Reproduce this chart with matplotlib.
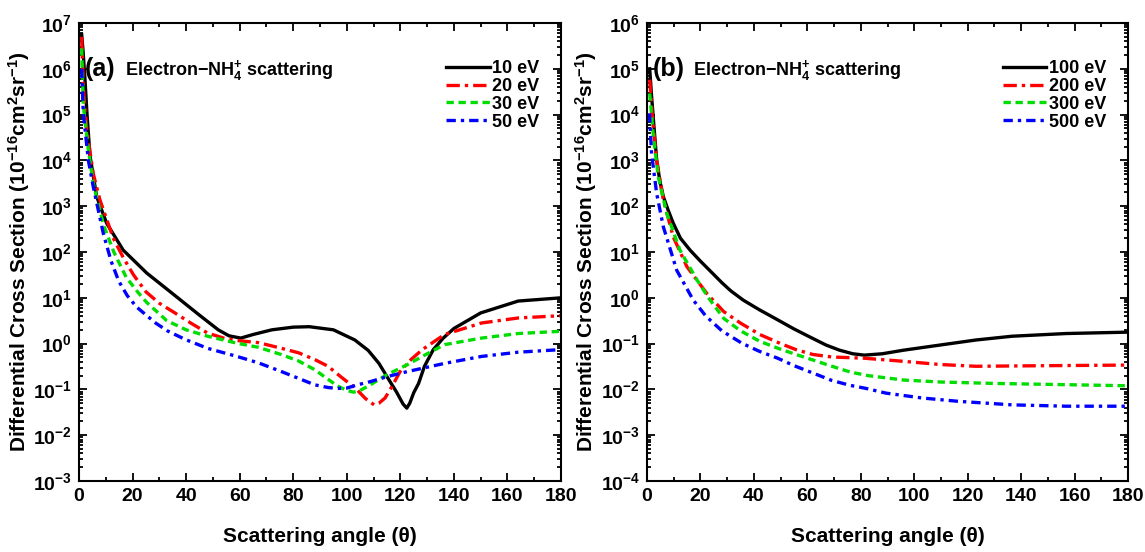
import matplotlib
matplotlib.use("Agg")
import matplotlib.pyplot as plt
import matplotlib.ticker as mticker
from matplotlib import font_manager

# ---------------- data ----------------
theta_10 = [1, 1.5, 2.2, 3.0, 4.1, 6.6, 10.3, 16.5, 25.3, 35.2, 45, 52, 56, 60.4, 65, 72, 80, 86,
            95, 103, 108, 112, 115, 118.5, 121, 122.4, 123.5, 125, 126.8, 129, 132.3, 136, 140,
            150, 164, 180]
dcs_10 = [5.6e6, 2.5e6, 6.3e5, 1.0e5, 1.26e4, 1.62e3, 427, 110, 34.7, 12.0, 4.17, 2.0, 1.48, 1.32,
          1.58, 2.0, 2.29, 2.34, 2.0, 1.2, 0.71, 0.37, 0.19, 0.089, 0.048, 0.039, 0.05, 0.085,
          0.135, 0.32, 0.74, 1.32, 2.14, 4.68, 8.5, 10.0]

theta_20 = [1, 1.6, 2.9, 5.3, 7.8, 12.8, 16.5, 20.3, 25, 30, 35.5, 42, 48, 54, 59, 67, 75.6, 82,
            88, 93, 97.7, 103.3, 107, 110.2, 112, 114.3, 117, 119.9, 124, 128.2, 136.5, 150.3,
            164, 180]
dcs_20 = [5.0e6, 4.1e5, 4.6e4, 5.2e3, 1.38e3, 200, 76, 32, 13.5, 7.6, 4.8, 2.75, 1.7, 1.32,
          1.17, 1.05, 0.79, 0.63, 0.45, 0.32, 0.19, 0.105, 0.063, 0.046, 0.050, 0.065, 0.12,
          0.245, 0.45, 0.74, 1.58, 2.82, 3.63, 4.07]

theta_30 = [1, 1.6, 3.5, 5.3, 9.1, 13, 17.6, 22, 25.3, 32.8, 40, 48, 59, 67, 75.6, 82, 88, 93,
            96.4, 100, 102.5, 105, 108.8, 115, 122.6, 130, 136.5, 150.3, 164, 180]
dcs_30 = [2.8e6, 1.6e5, 1.7e4, 3.2e3, 398, 100, 28.2, 13.2, 7.9, 3.16, 2.0, 1.45, 1.02, 0.83,
          0.575, 0.417, 0.27, 0.166, 0.12, 0.095, 0.087, 0.095, 0.126, 0.21, 0.347, 0.60, 0.95,
          1.32, 1.66, 1.86]

theta_50 = [1, 1.6, 3.5, 5.3, 9.1, 12, 14.8, 18, 21.5, 28.6, 33, 39.7, 48, 59, 67, 75.6, 82, 88,
            93, 96.5, 100, 104, 108.8, 115, 122.6, 136.5, 150.3, 164, 180]
dcs_50 = [1.0e6, 1.07e5, 1.0e4, 2.7e3, 251, 63, 23.4, 11.2, 6.3, 2.82, 1.9, 1.23, 0.79, 0.525,
          0.38, 0.245, 0.174, 0.126, 0.11, 0.105, 0.107, 0.126, 0.148, 0.19, 0.245, 0.37, 0.525,
          0.65, 0.74]

theta_100 = [1, 1.7, 2.4, 3.6, 4.8, 6.1, 8, 9.8, 12.5, 16.1, 20, 24.8, 28, 31.4, 36, 42, 48.9, 55,
             61.1, 67, 72, 77, 81.3, 88, 96.1, 109.6, 123.1, 136.6, 156.8, 180]
dcs_100 = [1.0e5, 2.5e4, 7.6e3, 1.02e3, 355, 162, 79, 42.7, 20, 11.0, 6.3, 3.3, 2.14, 1.41, 0.89,
           0.55, 0.33, 0.209, 0.138, 0.093, 0.072, 0.060, 0.056, 0.060, 0.072, 0.093, 0.12,
           0.145, 0.166, 0.178]

theta_200 = [1, 2.1, 3.6, 6.1, 9.8, 14.9, 22.3, 28.7, 35, 42.2, 50, 55.7, 62, 69.2, 81.3, 96.1,
             109.6, 123.1, 150, 180]
dcs_200 = [5.8e4, 7.6e3, 1.0e3, 138, 21.4, 4.8, 1.26, 0.5, 0.28, 0.158, 0.1, 0.074, 0.058, 0.051,
           0.048, 0.041, 0.035, 0.032, 0.033, 0.034]

theta_300 = [1, 2.4, 4.2, 7.4, 12.3, 18.6, 23, 28.7, 35, 42.2, 49, 55.7, 62, 69.2, 76, 82.7, 96.1,
             110, 130, 150, 180]
dcs_300 = [2.9e4, 3.3e3, 437, 69, 11.0, 2.5, 1.0, 0.355, 0.19, 0.112, 0.079, 0.058, 0.044, 0.032,
           0.024, 0.020, 0.016, 0.0145, 0.0135, 0.0129, 0.012]

theta_500 = [0.9, 1.7, 3.6, 6.1, 11.1, 17.3, 22, 28, 35.5, 42, 48.9, 55, 62.4, 69, 75.9, 82, 89.4,
             102.9, 116.4, 136.6, 156.8, 180]
dcs_500 = [1.07e4, 1.4e3, 190, 35.5, 4.0, 0.89, 0.40, 0.19, 0.102, 0.068, 0.048, 0.033, 0.0224,
           0.0158, 0.0123, 0.0105, 0.0083, 0.0065, 0.0055, 0.0046, 0.0043, 0.0043]

labels_a = ["10 eV", "20 eV", "30 eV", "50 eV"]
labels_b = ["100 eV", "200 eV", "300 eV", "500 eV"]
xticks = [0, 20, 40, 60, 80, 100, 120, 140, 160, 180]
yexp_a = list(range(-3, 8))
yexp_b = list(range(-4, 7))

# ---------------- style ----------------
avail = {f.name for f in font_manager.fontManager.ttflist}
narrow = "Liberation Sans Narrow" if "Liberation Sans Narrow" in avail else "Liberation Sans"
plt.rcParams["font.family"] = [narrow, "DejaVu Sans"]
plt.rcParams["font.weight"] = "bold"
plt.rcParams["axes.labelweight"] = "bold"
plt.rcParams["mathtext.fontset"] = "custom"
plt.rcParams["mathtext.rm"] = narrow + ":bold"
plt.rcParams["mathtext.bf"] = narrow + ":bold"
plt.rcParams["mathtext.it"] = narrow + ":bold"
plt.rcParams["mathtext.default"] = "rm"

colors = ["black", "#ff0000", "#00dd00", "#0000ff"]
styles = ["-", (0, (4, 1.5, 1, 1.5)), (0, (2.2, 1.4)), (0, (2.8, 1.5, 1, 1.5))]

fig = plt.figure(figsize=(11.45, 5.52), dpi=100)
ax_a = fig.add_axes([0.0690, 0.1286, 0.4210, 0.8297])
ax_b = fig.add_axes([0.5651, 0.1286, 0.4201, 0.8297])

series_a = [(theta_10, dcs_10), (theta_20, dcs_20), (theta_30, dcs_30), (theta_50, dcs_50)]
series_b = [(theta_100, dcs_100), (theta_200, dcs_200), (theta_300, dcs_300), (theta_500, dcs_500)]

ylab = r"Differential Cross Section (10$^{-16}$cm$^{2}$sr$^{-1}$)"

for ax, series, labels, yexp, tag in [(ax_a, series_a, labels_a, yexp_a, "(a)"),
                                       (ax_b, series_b, labels_b, yexp_b, "(b)")]:
    for (t, d), lab, c, ls in zip(series, labels, colors, styles):
        ax.plot(t, d, color=c, linestyle=ls, lw=2.4, label=lab)
    ax.set_yscale("log")
    ax.set_xlim(0, 180)
    ax.set_ylim(10.0 ** yexp[0], 10.0 ** yexp[-1])
    ax.set_xticks(xticks)
    ax.set_xticklabels([str(v) for v in xticks])
    ax.xaxis.set_minor_locator(mticker.MultipleLocator(10))
    ax.set_yticks([10.0 ** e for e in yexp])
    ax.set_yticklabels([r"10$^{%d}$" % e for e in yexp])
    ax.yaxis.set_minor_locator(mticker.LogLocator(base=10, subs=range(2, 10), numticks=30))
    ax.yaxis.set_minor_formatter(mticker.NullFormatter())
    ax.tick_params(which="both", direction="in", top=True, right=True, width=1.3)
    ax.tick_params(which="major", length=6, labelsize=14, pad=5)
    ax.tick_params(which="minor", length=3)
    for s in ax.spines.values():
        s.set_linewidth(1.5)
    ax.set_xlabel("Scattering angle (θ)", fontsize=15, fontweight="bold", labelpad=16)
    ax.set_ylabel(ylab, fontsize=15, fontweight="bold", labelpad=1)
    ax.text(0.012, 0.885, tag, transform=ax.transAxes, fontsize=18, fontweight="bold")
    ax.text(0.095, 0.887, r"Electron$-$NH$_{4}^{+}$ scattering", transform=ax.transAxes,
            fontsize=13, fontweight="bold")
    ax.legend(loc="upper right", frameon=False, fontsize=13, handlelength=2.4,
              handletextpad=0.15, labelspacing=0.05, bbox_to_anchor=(0.97, 0.935),
              borderaxespad=0)

fig.savefig("out.png", dpi=100)
